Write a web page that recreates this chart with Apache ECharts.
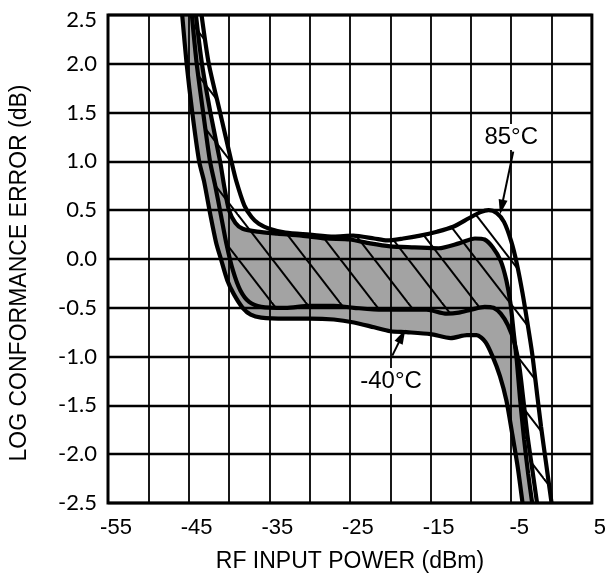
<!DOCTYPE html>
<html><head><meta charset="utf-8">
<script src="https://cdn.jsdelivr.net/npm/echarts@6/dist/echarts.min.js"></script>
<style>html,body{margin:0;padding:0;background:#fff}#c{width:609px;height:584px}</style>
</head><body><div id="c"></div>
<script>
// Tick labels
const xTickLabels = [-55, -45, -35, -25, -15, -5, 5];
const yTickLabels = ['-2.5','-2.0','-1.5','-1.0','-0.5','0.0','0.5','1.0','1.5','2.0','2.5'];

// -40°C lower bound curve [dBm, dB]
const minus40Lower = [[-45.8,2.5],[-45.25,2.0],[-44.55,1.5],[-43.7,1.0],[-43.1,0.8],[-42.3,0.45],[-41.6,0.17],[-41.0,0.0],[-40.2,-0.22],[-39.4,-0.36],[-38.3,-0.5],[-37.3,-0.57],[-36,-0.6],[-33,-0.61],[-30,-0.61],[-27,-0.62],[-24.5,-0.65],[-22,-0.7],[-20,-0.74],[-18,-0.75],[-15,-0.77],[-12.5,-0.81],[-10.5,-0.78],[-9.3,-0.78],[-8.2,-0.85],[-7.3,-1.0],[-6.4,-1.2],[-5.6,-1.45],[-4.9,-1.78],[-4.2,-2.13],[-3.6,-2.5]];
// -40°C upper bound curve
const minus40Upper = [[-44.1,2.5],[-43.35,2.0],[-42.3,1.5],[-41.1,1.0],[-40.6,0.75],[-40.0,0.5],[-39.2,0.37],[-38.3,0.31],[-36.5,0.28],[-34,0.26],[-31,0.24],[-28,0.21],[-25,0.2],[-22.5,0.16],[-20,0.13],[-17,0.12],[-14,0.11],[-11.5,0.16],[-9.5,0.21],[-8.3,0.2],[-7.3,0.12],[-6.3,-0.02],[-5.6,-0.22],[-5.1,-0.45],[-4.7,-0.75],[-4.3,-1.05],[-3.9,-1.44],[-3.4,-1.85],[-2.9,-2.2],[-2.4,-2.5]];
// 85°C lower bound curve
const plus85Lower = [[-44.6,2.5],[-44.0,2.0],[-43.2,1.5],[-42.35,1.0],[-41.7,0.75],[-41.0,0.45],[-40.3,0.15],[-39.5,-0.12],[-38.6,-0.32],[-37.5,-0.44],[-36,-0.49],[-33,-0.5],[-30,-0.48],[-27,-0.48],[-24.5,-0.5],[-21,-0.52],[-18,-0.52],[-15.5,-0.52],[-13,-0.56],[-11.5,-0.55],[-10,-0.52],[-8.3,-0.49],[-7.2,-0.5],[-6.3,-0.56],[-5.4,-0.68],[-4.6,-0.86],[-4.0,-1.1],[-3.5,-1.44],[-3.0,-1.8],[-2.4,-2.15],[-1.8,-2.5]];
// 85°C upper bound curve
const plus85Upper = [[-43.4,2.5],[-42.5,2.0],[-41.1,1.5],[-39.7,1.0],[-39.1,0.8],[-38.1,0.55],[-37.2,0.43],[-36.3,0.36],[-35,0.31],[-33,0.27],[-30,0.25],[-27,0.23],[-24.6,0.24],[-22,0.21],[-20.4,0.19],[-18.4,0.21],[-16.3,0.24],[-14.2,0.28],[-12.2,0.33],[-10.2,0.42],[-8.8,0.48],[-7.8,0.5],[-6.8,0.47],[-5.9,0.38],[-5.0,0.18],[-4.3,-0.05],[-3.6,-0.35],[-3.0,-0.65],[-2.4,-0.97],[-1.8,-1.38],[-1.3,-1.72],[-0.7,-2.08],[0.0,-2.5]];

// annotations (data coords)
const label85 = {text:'85°C', at:[-5.0, 1.25], arrowFrom:[-4.75, 1.1], arrowTo:[-6.2, 0.53]};
const labelM40 = {text:'-40°C', at:[-19.9, -1.25], arrowFrom:[-19.75, -0.99], arrowTo:[-18.55, -0.79]};

function hatchPattern(){
  const W = 34, H = 44, off = 4;
  const c = document.createElement('canvas'); c.width = W; c.height = H;
  const g = c.getContext('2d');
  g.strokeStyle = '#000'; g.lineWidth = 2;
  for (let k = -2; k <= 2; k++) {
    g.beginPath();
    g.moveTo(off + k*W - W, -H);
    g.lineTo(off + k*W + 2*W, 2*H);
    g.stroke();
  }
  return c;
}

function band(lower, upper, fill){
  return {
    type:'custom', z:1, silent:true, clip:true, data:[[lower[0][0], lower[0][1]]],
    renderItem:function(params, api){
      const pts = lower.concat(upper.slice().reverse()).map(p => api.coord(p));
      return {type:'polygon', shape:{points:pts}, style:{fill:fill, stroke:null}};
    }
  };
}

const FONT = 'Liberation Sans';
function curve(data, extra){
  return Object.assign({
    type:'line', data:data, symbol:'none', smooth:0.25, z:5, clip:true,
    lineStyle:{color:'#000', width:4.2}, silent:true
  }, extra || {});
}
function annot(a){
  return {
    markPoint:{symbol:'circle', symbolSize:1, itemStyle:{color:'rgba(0,0,0,0)'},
      label:{show:true, position:'inside', formatter:a.text, fontFamily:FONT, fontSize:24, color:'#000',
        backgroundColor:'#fff', padding:[1,2,1,2]},
      data:[{coord:a.at}]},
    markLine:{silent:true, symbol:['none','triangle'], symbolSize:[9,15],
      lineStyle:{color:'#000', width:2, type:'solid'}, label:{show:false},
      data:[[{coord:a.arrowFrom},{coord:a.arrowTo}]]}
  };
}

const chart = echarts.init(document.getElementById('c'), null, {renderer:'canvas'});
chart.setOption({
  animation:false,
  backgroundColor:'#fff',
  grid:{left:106, right:16, top:15, bottom:81, show:true, borderColor:'#000', borderWidth:3, backgroundColor:'rgba(0,0,0,0)', z:4},
  xAxis:{type:'value', min:-55, max:5, interval:5, z:3,
    axisLine:{show:false}, axisTick:{show:false},
    splitLine:{show:true, lineStyle:{color:'#000', width:1.8}},
    axisLabel:{formatter:v => xTickLabels.includes(Math.round(v)) ? String(Math.round(v)) : '',
      fontFamily:FONT, fontSize:22, color:'#000', margin:14, padding:[0,0,0,16]},
    name:'RF INPUT POWER (dBm)', nameLocation:'middle', nameGap:47,
    nameTextStyle:{fontFamily:FONT, fontSize:23, color:'#000'}},
  yAxis:{type:'value', min:-2.5, max:2.5, interval:0.5, z:3,
    axisLine:{show:false}, axisTick:{show:false},
    splitLine:{show:true, lineStyle:{color:'#000', width:2.4}},
    axisLabel:{formatter:v => { const s = yTickLabels[Math.round((v+2.5)/0.5)]; return Math.abs(v-2.5)<1e-9 ? '{t|'+s+'}' : s; },
      fontFamily:'Lato', fontSize:22, color:'#000', margin:11,
      rich:{t:{fontFamily:'Lato', fontSize:22, color:'#000', padding:[10,0,0,0]}}},
    name:'LOG CONFORMANCE ERROR (dB)', nameLocation:'middle', nameGap:77, nameRotate:90,
    nameTextStyle:{fontFamily:FONT, fontSize:23, color:'#000', padding:[0,28,0,0]}},
  series:[
    band(minus40Lower, minus40Upper, '#a3a3a3'),
    band(plus85Lower, plus85Upper, {image:hatchPattern(), repeat:'repeat'}),
    curve(minus40Lower, annot(labelM40)),
    curve(minus40Upper),
    curve(plus85Lower),
    curve(plus85Upper, annot(label85))
  ]
});
</script></body></html>
